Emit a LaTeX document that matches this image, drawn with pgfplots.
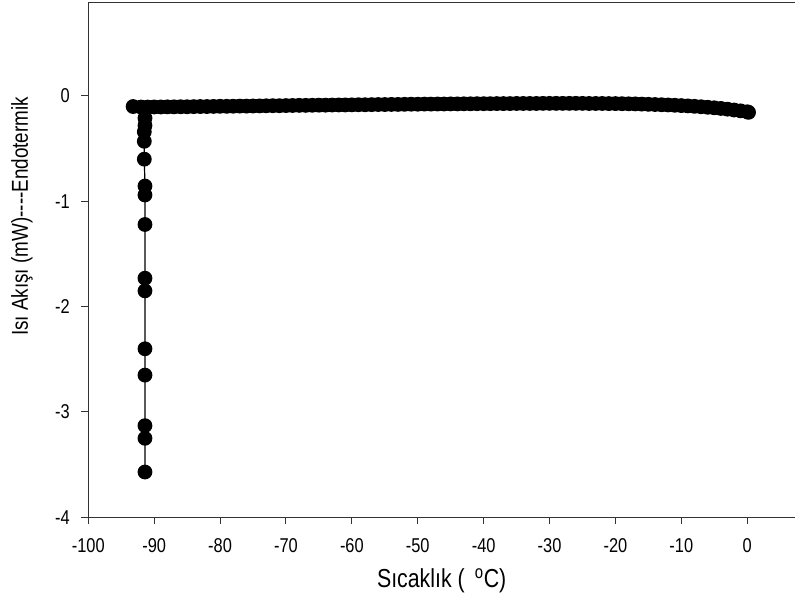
\documentclass[border=0pt]{standalone}
\usepackage{fontspec}
\setmainfont{Liberation Sans}[FakeStretch=0.82]
\usepackage{pgfplots}
\usepackage{pgfplotstable}
\pgfplotsset{compat=1.18}

% vertical part (bottom to top), then the flat baseline
\pgfplotstableread{
x y
-91.4 -3.57
-91.4 -3.25
-91.4 -3.13
-91.4 -2.65
-91.4 -2.40
-91.4 -1.85
-91.4 -1.73
-91.4 -1.22
-91.4 -0.94
-91.4 -0.855
-91.5 -0.60
-91.5 -0.43
-91.5 -0.34
-91.4 -0.28
-91.4 -0.21
-93.2 -0.10
-92 -0.105
-91 -0.105
-90 -0.104
-89 -0.104
-88 -0.103
-87 -0.103
-86 -0.102
-85 -0.102
-84 -0.101
-83 -0.100
-82 -0.100
-81 -0.099
-80 -0.098
-79 -0.098
-78 -0.097
-77 -0.096
-76 -0.096
-75 -0.095
-74 -0.094
-73 -0.093
-72 -0.092
-71 -0.092
-70 -0.091
-69 -0.090
-68 -0.089
-67 -0.089
-66 -0.088
-65 -0.087
-64 -0.087
-63 -0.086
-62 -0.085
-61 -0.085
-60 -0.084
-59 -0.083
-58 -0.083
-57 -0.082
-56 -0.081
-55 -0.081
-54 -0.080
-53 -0.080
-52 -0.079
-51 -0.078
-50 -0.078
-49 -0.077
-48 -0.077
-47 -0.076
-46 -0.076
-45 -0.075
-44 -0.075
-43 -0.074
-42 -0.074
-41 -0.073
-40 -0.073
-39 -0.073
-38 -0.072
-37 -0.072
-36 -0.072
-35 -0.071
-34 -0.071
-33 -0.071
-32 -0.071
-31 -0.070
-30 -0.070
-29 -0.070
-28 -0.070
-27 -0.070
-26 -0.070
-25 -0.070
-24 -0.071
-23 -0.071
-22 -0.071
-21 -0.072
-20 -0.072
-19 -0.073
-18 -0.074
-17 -0.075
-16 -0.077
-15 -0.079
-14 -0.081
-13 -0.083
-12 -0.085
-11 -0.088
-10 -0.091
-9 -0.094
-8 -0.098
-7 -0.102
-6 -0.107
-5 -0.112
-4 -0.118
-3 -0.125
-2 -0.133
-1 -0.141
0 -0.150
0.2 -0.155
}\dsc

\begin{document}
\begin{tikzpicture}
	\useasboundingbox (-88.3pt,-96.7pt) rectangle (706.7pt,517.3pt);
	\begin{axis}[
		scale only axis,
		width=706.7pt, height=514.3pt,
		xmin=-100, xmax=7.25,
		ymin=-4, ymax=0.883,
		axis x line*=box,
		axis y line*=left,
		axis line style={line width=1pt, black!80},
		xtick={-100,-90,...,0},
		ytick={-4,-3,...,0},
		xtick pos=bottom, ytick pos=left,
		tick align=outside,
		major tick length=7pt,
		tick style={line width=1pt, black!80},
		/pgf/number format/assume math mode=true,
		ticklabel style={font=\fontsize{20}{22}\selectfont},
		xticklabel style={yshift=-11pt},
		yticklabel style={xshift=-8pt},
		xlabel={Sıcaklık (\, \textsuperscript{o}C)},
		ylabel={Isı Akışı (mW){-}{-}{-}{-}Endotermik},
		xlabel style={font=\fontsize{26}{28}\selectfont, at={(axis description cs:0.5,-0.123)}, anchor=center},
		ylabel style={font=\fontsize{23}{25}\selectfont, at={(axis description cs:-0.094,0.585)}, anchor=center},
		]
		\addplot[black, line width=1.2pt, mark=*, mark size=6.8pt, mark options={fill=black}] table[x=x, y=y] {\dsc};
	\end{axis}
\end{tikzpicture}
\end{document}
